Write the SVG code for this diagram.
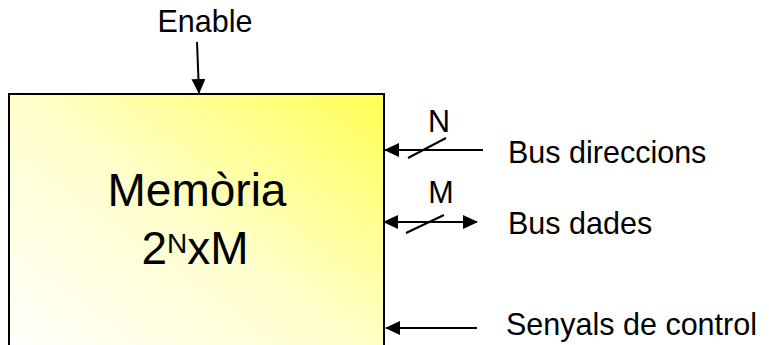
<svg xmlns="http://www.w3.org/2000/svg" width="769" height="345" viewBox="0 0 769 345">
  <style>
    text { font-family: "Liberation Sans", Arial, sans-serif; fill: #000; }
    .lbl { font-size: 30.5px; }
    .big { font-size: 46px; }
    .wire { stroke: #000; stroke-width: 2; fill: none; }
  </style>
  <defs>
    <linearGradient id="memFill" x1="0" y1="1" x2="1" y2="0">
      <stop offset="0" stop-color="#ffffff"/>
      <stop offset="0.5" stop-color="#ffffcc"/>
      <stop offset="1" stop-color="#ffff55"/>
    </linearGradient>
    <marker id="head" viewBox="0 0 15 14" refX="14" refY="7" markerWidth="15" markerHeight="14" orient="auto-start-reverse" markerUnits="userSpaceOnUse">
      <path d="M0,0 L15,7 L0,14 z" fill="#000"/>
    </marker>
  </defs>

  <g id="memoria">
    <rect x="9" y="94" width="375" height="270" fill="url(#memFill)" stroke="#000" stroke-width="2"/>
    <text class="big" x="197" y="206" text-anchor="middle">Memòria</text>
    <text class="big" x="195" y="264" text-anchor="middle">2<tspan font-size="28px" dy="-11">N</tspan><tspan dy="11">xM</tspan></text>
  </g>

  <g id="enable">
    <text class="lbl" x="205" y="32" text-anchor="middle">Enable</text>
  </g>
  <g id="bus-direccions">
    <text class="lbl" x="439" y="132" text-anchor="middle">N</text>
    <text class="lbl" x="508" y="163">Bus direccions</text>
  </g>
  <g id="bus-dades">
    <text class="lbl" x="441" y="203" text-anchor="middle">M</text>
    <text class="lbl" x="508" y="234">Bus dades</text>
  </g>
  <g id="senyals">
    <text class="lbl" x="506" y="335">Senyals de control</text>
  </g>

  <g id="connectors">
    <line class="wire" x1="197" y1="42" x2="199" y2="93" marker-end="url(#head)"/>
    <line class="wire" x1="483" y1="150" x2="385" y2="150" marker-end="url(#head)"/>
    <line class="wire" x1="408" y1="158" x2="446" y2="138"/>
    <line class="wire" x1="384" y1="222" x2="477" y2="222" marker-start="url(#head)" marker-end="url(#head)"/>
    <line class="wire" x1="406" y1="233" x2="444" y2="215"/>
    <line class="wire" x1="477" y1="328" x2="386" y2="328" marker-end="url(#head)"/>
  </g>
</svg>
